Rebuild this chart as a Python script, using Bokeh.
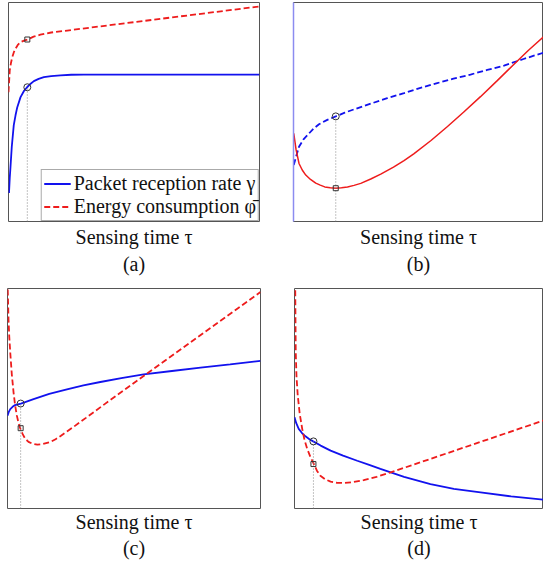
from bokeh.plotting import figure
from bokeh.layouts import column, row
from bokeh.models import Range1d, FixedTicker, Legend, LegendItem, LinearAxis
from bokeh.embed import file_html
from bokeh.resources import INLINE

# ---------------- data (normalised units, 0..100) -------------
# panel (a)
a_rate_x = [0.2, 0.5, 0.8, 1.3, 2.1, 2.8, 3.5, 4.8, 6.1, 7.4, 8.7, 10.1, 12.0, 14.1, 17.0, 20.7, 25.0, 30.0, 100]
a_rate_y = [13.0, 20.0, 25.0, 34.0, 44.0, 48.5, 52.2, 56.8, 59.5, 61.3, 62.8, 64.1, 65.1, 65.9, 66.4, 66.7, 67.0, 67.1, 67.1]
a_energy_x = [0.0, 0.5, 1.0, 1.5, 2.1, 2.8, 3.7, 4.8, 6.2, 7.7, 10.0, 12.7, 17.0, 23.4, 100]
a_energy_y = [59.0, 69.0, 72.5, 75.0, 77.2, 78.9, 80.6, 81.9, 82.6, 83.1, 84.4, 85.3, 86.3, 87.2, 98.2]
a_opt = [7.5, 61.3, 83.1]          # tau*, rate at tau*, energy at tau*

# panel (b)
b_energy_x = [0.1, 1.0, 2.2, 3.5, 4.9, 6.8, 8.9, 10.7, 12.5, 14.7, 16.9, 19.2, 21.6, 24.2, 26.9,
              30.9, 34.9, 40.0, 44.2, 48.1, 55.0, 61.6, 68.0, 74.8, 81.4, 88.0, 94.0, 100]
b_energy_y = [40.2, 33.0, 26.5, 23.5, 21.2, 19.2, 17.5, 16.6, 15.8, 15.4, 15.2, 15.4, 15.8, 16.5, 17.4,
              19.4, 21.6, 24.8, 27.8, 30.9, 37.0, 43.4, 49.9, 57.0, 64.2, 71.6, 78.2, 84.3]
b_rate_x = [0.1, 1.0, 2.2, 4.0, 6.2, 8.0, 10.2, 13.5, 16.9, 20.5, 24.2, 30.9, 37.5, 44.2, 50.8,
            57.5, 64.0, 70.8, 77.5, 84.2, 92.0, 100]
b_rate_y = [25.8, 29.5, 34.1, 37.5, 40.2, 42.4, 44.4, 46.4, 48.0, 49.7, 51.2, 53.8, 56.3, 58.6, 61.0,
            63.2, 65.2, 67.1, 69.2, 71.2, 74.2, 77.1]
b_opt = [16.9, 48.0, 15.2]

# panel (c)
c_energy_x = [0.1, 0.4, 0.7, 1.1, 1.7, 2.4, 3.0, 3.7, 4.3, 5.0, 6.0, 7.0, 8.3, 9.7, 11.8, 14.0,
              16.9, 19.0, 21.0, 23.5, 26.0, 31.0, 37.4, 54.5, 100]
c_energy_y = [99.5, 85.8, 78.0, 70.7, 61.0, 52.7, 47.0, 42.2, 39.2, 36.5, 33.8, 31.7, 30.3, 29.5, 29.0, 29.3,
              30.2, 31.5, 33.0, 35.0, 37.0, 41.2, 46.6, 60.8, 98.4]
c_rate_x = [0.0, 0.5, 1.1, 2.0, 3.0, 5.3, 10.3, 16.5, 23.5, 30.0, 36.7, 45.0, 53.8, 65.0, 76.3, 88.0, 100]
c_rate_y = [42.2, 43.9, 45.2, 46.2, 47.0, 47.7, 49.7, 52.1, 54.2, 56.0, 57.5, 59.3, 61.0, 62.5, 64.0, 65.5, 67.1]
c_opt = [5.2, 47.7, 36.5]

# panel (d)
d_energy_x = [0.3, 0.4, 0.5, 0.8, 1.3, 2.1, 3.1, 4.0, 5.1, 6.4, 7.8, 9.0, 10.4, 12.3, 14.5, 17.0,
              19.8, 23.5, 27.8, 33.0, 38.6, 100]
d_energy_y = [99.2, 85.0, 71.1, 60.0, 51.4, 43.0, 36.2, 31.2, 27.1, 23.4, 20.2, 17.2, 14.9, 13.3, 12.2, 11.7,
              11.6, 12.0, 12.9, 14.4, 16.4, 40.0]
d_rate_x = [0.0, 0.7, 1.7, 3.0, 4.4, 6.0, 7.5, 10.5, 14.5, 19.5, 25.2, 30.0, 34.5, 44.0, 54.6, 64.0,
            74.7, 87.0, 100]
d_rate_y = [41.5, 38.8, 36.2, 34.3, 32.8, 31.5, 30.5, 28.6, 26.3, 24.0, 21.7, 19.8, 18.0, 14.4, 11.1, 8.9,
            7.3, 5.5, 4.0]
d_opt = [7.6, 30.5, 20.2]

x_label = "Sensing time τ"
legend_labels = ["Packet reception rate γ", "Energy consumption \u03c6\u0304"]
captions = ["(a)", "(b)", "(c)", "(d)"]

BLUE = "#1212ee"
RED = "#ee1c1c"
SERIF = "'Liberation Serif', serif"


def bare_axis(axis):
    axis.ticker = FixedTicker(ticks=[])
    axis.major_tick_line_color = None
    axis.minor_tick_line_color = None
    axis.major_tick_out = 0
    axis.major_tick_in = 0
    axis.minor_tick_out = 0
    axis.minor_tick_in = 0
    axis.major_label_standoff = 0


def panel(width, height, left, right, top, bottom, caption, s1, s2, spine=None):
    p = figure(width=width, height=height, min_border_left=left, min_border_right=right,
               min_border_top=top, min_border_bottom=bottom,
               x_range=Range1d(0, 100), y_range=Range1d(0, 100),
               toolbar_location=None, output_backend="svg")
    p.grid.visible = False
    p.outline_line_color = "#555555"
    p.outline_line_width = 1
    p.background_fill_color = "white"
    p.border_fill_color = "white"
    ax = p.xaxis[0]
    bare_axis(ax)
    ax.axis_line_color = None
    ax.axis_label = x_label
    ax.axis_label_text_font = SERIF
    ax.axis_label_text_font_size = "20px"
    ax.axis_label_text_font_style = "normal"
    ax.axis_label_text_color = "#111111"
    ax.axis_label_standoff = s1
    cap = LinearAxis(axis_label=caption)
    bare_axis(cap)
    cap.axis_line_color = None
    cap.axis_label_text_font = SERIF
    cap.axis_label_text_font_size = "20px"
    cap.axis_label_text_font_style = "normal"
    cap.axis_label_text_color = "#111111"
    cap.axis_label_standoff = s2
    p.add_layout(cap, "below")
    ay = p.yaxis[0]
    bare_axis(ay)
    if spine is None:
        ay.axis_line_color = None
    else:
        ay.axis_line_color = spine
        ay.axis_line_width = 1.5
    return p


def markers(p, opt):
    p.segment(x0=[opt[0]], y0=[0], x1=[opt[0]], y1=[opt[1]], line_color="#888888",
              line_width=1, line_dash="1 2")
    p.scatter([opt[0]], [opt[1]], marker="circle", size=7, line_color="#333333",
              fill_alpha=0, line_width=1)
    p.scatter([opt[0]], [opt[2]], marker="square", size=5, line_color="#333333",
              fill_alpha=0, line_width=1)


# (a)
pa = panel(270, 280, 8, 11, 2, 59, captions[0], 4, 2)
ra = pa.line(a_rate_x, a_rate_y, line_color=BLUE, line_width=1.8)
ea = pa.line(a_energy_x, a_energy_y, line_color=RED, line_width=1.8, line_dash="6 3")
markers(pa, a_opt)
leg = Legend(items=[LegendItem(label=legend_labels[0], renderers=[ra]),
                    LegendItem(label=legend_labels[1], renderers=[ea])],
             location="bottom_right", margin=0, padding=2, spacing=0,
             label_text_font=SERIF, label_text_font_size="20px", label_height=19,
             glyph_height=19, glyph_width=27, label_standoff=3,
             border_line_color="#555555", border_line_width=1,
             background_fill_color="white", background_fill_alpha=1,
             label_text_color="#111111")
pa.add_layout(leg, "center")

# (b)
pb = panel(273, 280, 23, 0, 2, 58, captions[1], 4, 2, spine="#8c8cf0")
pb.line(b_rate_x, b_rate_y, line_color=BLUE, line_width=1.8, line_dash="6 3")
pb.line(b_energy_x, b_energy_y, line_color=RED, line_width=1.5)
markers(pb, b_opt)

# (c)
pc = panel(270, 287, 7, 10, 7, 58, captions[2], 2, 1)
pc.line(c_rate_x, c_rate_y, line_color=BLUE, line_width=1.8)
pc.line(c_energy_x, c_energy_y, line_color=RED, line_width=1.8, line_dash="6 3")
markers(pc, c_opt)

# (d)
pd_ = panel(273, 287, 24, 0, 8, 59, captions[3], 2, 1)
pd_.line(d_rate_x, d_rate_y, line_color=BLUE, line_width=1.8)
pd_.line(d_energy_x, d_energy_y, line_color=RED, line_width=1.8, line_dash="6 3")
markers(pd_, d_opt)

layout = column(row(pa, pb, spacing=0), row(pc, pd_, spacing=0), spacing=0)
open("out.html", "w").write(file_html(layout, INLINE))
